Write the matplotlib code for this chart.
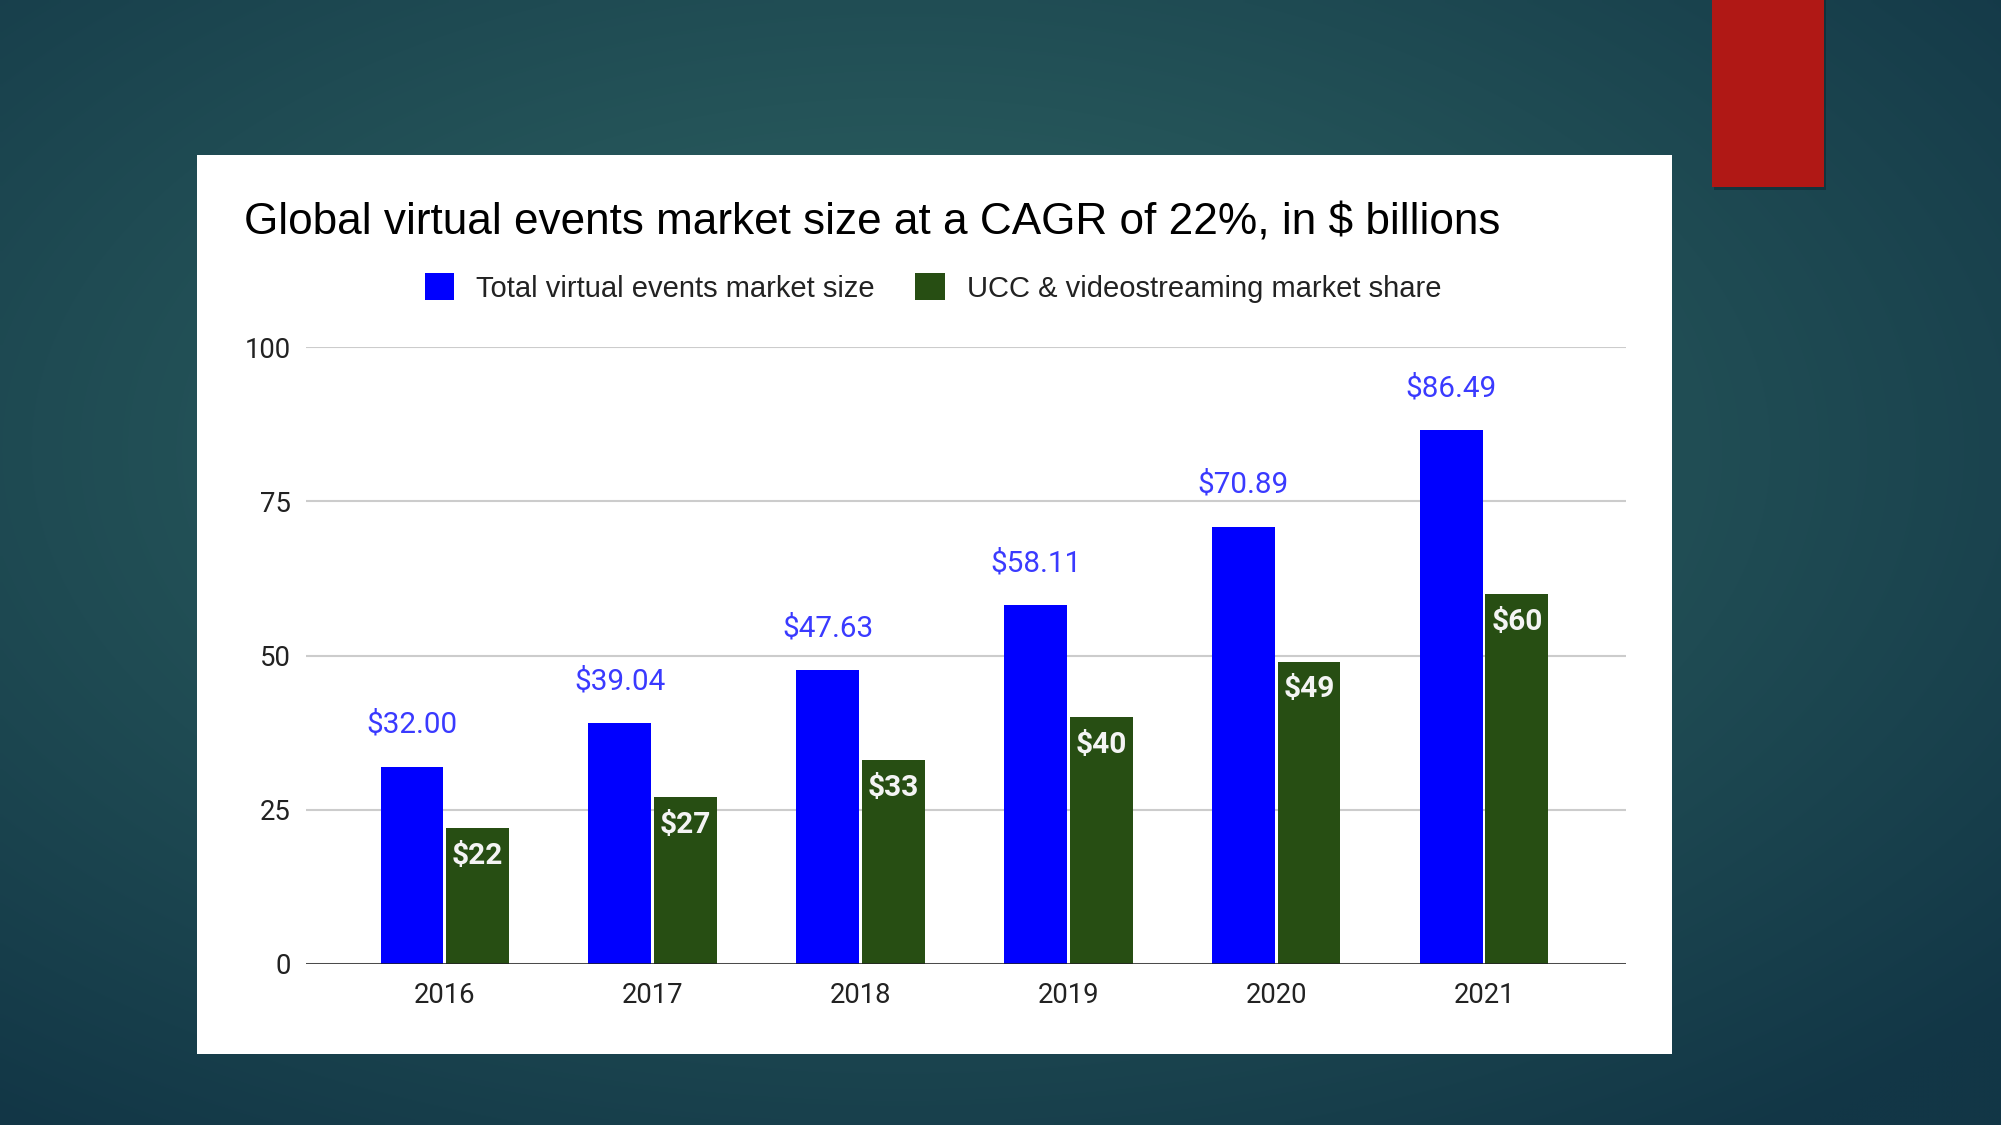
import numpy as np
import matplotlib
matplotlib.use("Agg")
import matplotlib.pyplot as plt
from matplotlib.patches import Rectangle, Patch
from matplotlib.colors import to_rgb

# ----- data -----
years = ["2016", "2017", "2018", "2019", "2020", "2021"]
total_market = [32.00, 39.04, 47.63, 58.11, 70.89, 86.49]
ucc_share = [22, 27, 33, 40, 49, 60]
total_labels = ["$32.00", "$39.04", "$47.63", "$58.11", "$70.89", "$86.49"]
ucc_labels = ["$22", "$27", "$33", "$40", "$49", "$60"]
y_ticks = [0, 25, 50, 75, 100]

title = "Global virtual events market size at a CAGR of 22%, in $ billions"
series_names = ["Total virtual events market size", "UCC & videostreaming market share"]

BLUE = "#0000ff"
GREEN = "#274e13"
W, H = 2001, 1125

fig = plt.figure(figsize=(W / 100, H / 100), dpi=100)

# ----- slide background (teal radial gradient) -----
bg = fig.add_axes([0, 0, 1, 1], zorder=0)
yy, xx = np.mgrid[0:1:225j, 0:1:400j]
r = np.sqrt(((xx - 0.45) / 0.75) ** 2 + ((yy - 0.40) / 0.75) ** 2)
t = np.clip(r, 0, 1)[..., None]
inner = np.array(to_rgb("#316865"))
outer = np.array(to_rgb("#123646"))
bg.imshow(inner * (1 - t) + outer * t, aspect="auto", extent=[0, 1, 0, 1], interpolation="bilinear")
bg.set_axis_off()

# white chart card and red accent block
fig.patches.append(Rectangle((197 / W, 1 - 1054 / H), 1475 / W, 899 / H,
                             transform=fig.transFigure, facecolor="white", zorder=1))
fig.patches.append(Rectangle((1714 / W, 1 - 190 / H), 112 / W, 190 / H,
                             transform=fig.transFigure, facecolor="#0c2a33", alpha=0.6, zorder=1))
fig.patches.append(Rectangle((1712 / W, 1 - 187 / H), 112 / W, 187 / H,
                             transform=fig.transFigure, facecolor="#b01815", zorder=1))

# ----- chart axes -----
ax = fig.add_axes([306 / W, 1 - 964 / H, 1320 / W, 617 / H], zorder=2)
ax.patch.set_alpha(0)

x = np.arange(len(years))
bw = 0.302
off = 0.158
ax.bar(x - off, total_market, bw, color=BLUE, zorder=2)
ax.bar(x + off, ucc_share, bw, color=GREEN, zorder=2)

for xi, v, lab in zip(x, total_market, total_labels):
    ax.annotate(lab, (xi - off, v), xytext=(0, 30), textcoords="offset points",
                ha="center", va="center", fontsize=21.3, color="#3a3aff", family="Roboto")
for xi, v, lab in zip(x, ucc_share, ucc_labels):
    ax.annotate(lab, (xi + off, v), xytext=(0, -20), textcoords="offset points",
                ha="center", va="center", fontsize=21.5, color="#f4f4f4",
                family="Roboto", fontweight="bold", zorder=4)

ax.set_xlim(-0.668, 5.683)
ax.set_ylim(0, 100)
ax.set_yticks(y_ticks)
ax.set_xticks(x)
ax.set_xticklabels(years)
ax.grid(axis="y", color="#cccccc", linewidth=1.5, zorder=1)
ax.set_axisbelow(True)
ax.axhline(0, color="#222222", linewidth=1.8, zorder=3)
for s in ax.spines.values():
    s.set_visible(False)
ax.tick_params(axis="both", length=0, labelsize=19.8, labelcolor="#222222")
ax.tick_params(axis="x", pad=13)
ax.tick_params(axis="y", pad=11)
for lbl in ax.get_xticklabels() + ax.get_yticklabels():
    lbl.set_family("Roboto")

# ----- title and legend -----
fig.text(244 / W, 1 - 223 / H, title, ha="left", va="center", fontsize=31.8,
         family="Liberation Sans", color="#000000", zorder=5)

handles = [Patch(facecolor=BLUE), Patch(facecolor=GREEN)]
fig.legend(handles, series_names, loc="center", bbox_to_anchor=(933 / W, 1 - 288 / H),
           ncol=2, frameon=False, prop={"family": "Liberation Sans", "size": 21},
           handlelength=1.0, handleheight=1.0, handletextpad=0.75, columnspacing=1.4,
           labelcolor="#222222")

fig.savefig("out.png", dpi=100)
